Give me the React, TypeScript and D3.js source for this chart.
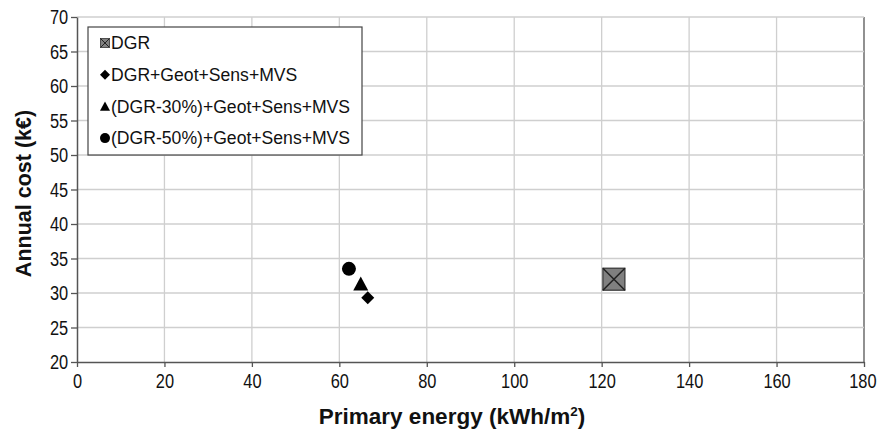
import React, { useEffect, useRef } from "react";
import * as d3 from "d3";

const seriesNames = [
  "DGR",
  "DGR+Geot+Sens+MVS",
  "(DGR-30%)+Geot+Sens+MVS",
  "(DGR-50%)+Geot+Sens+MVS",
];
const primaryEnergy = [122.8, 66.5, 64.9, 62.2];
const annualCost = [32.0, 29.3, 31.3, 33.5];
const xTicks = [0, 20, 40, 60, 80, 100, 120, 140, 160, 180];
const yTicks = [20, 25, 30, 35, 40, 45, 50, 55, 60, 65, 70];

const W = 877;
const H = 431;
const margin = { left: 77, right: 13, top: 17, bottom: 69 };
const FONT = "'Liberation Sans', Arial, sans-serif";

function drawMarker(g: any, kind: number, size: number) {
  if (kind === 0) {
    const s = size;
    g.append("rect")
      .attr("x", -s / 2).attr("y", -s / 2).attr("width", s).attr("height", s)
      .attr("fill", "#808080").attr("stroke", "#333").attr("stroke-width", s > 12 ? 1.2 : 0.8);
    g.append("path")
      .attr("d", `M${-s / 2},${-s / 2}L${s / 2},${s / 2}M${s / 2},${-s / 2}L${-s / 2},${s / 2}`)
      .attr("stroke", "#222").attr("stroke-width", s > 12 ? 1.5 : 1);
  } else if (kind === 1) {
    const r = size / 2;
    g.append("path").attr("d", `M0,${-r}L${r},0L0,${r}L${-r},0Z`).attr("fill", "#000");
  } else if (kind === 2) {
    const r = size / 2;
    g.append("path").attr("d", `M0,${-r}L${r},${r * 0.85}L${-r},${r * 0.85}Z`).attr("fill", "#000");
  } else {
    g.append("circle").attr("r", size / 2).attr("fill", "#000");
  }
}

export default function App() {
  const ref = useRef<SVGSVGElement>(null);

  useEffect(() => {
    const svg = d3.select(ref.current);
    svg.selectAll("*").remove();

    const x = d3.scaleLinear().domain([0, 180]).range([margin.left, W - margin.right]);
    const y = d3.scaleLinear().domain([20, 70]).range([H - margin.bottom, margin.top]);

    // gridlines
    svg.append("g").selectAll("line").data(xTicks.slice(1)).join("line")
      .attr("x1", (d) => x(d)).attr("x2", (d) => x(d))
      .attr("y1", y(20)).attr("y2", y(70))
      .attr("stroke", (d) => (d === 180 ? "#555" : "#cfcfcf")).attr("stroke-width", 1.3);
    svg.append("g").selectAll("line").data(yTicks.slice(1)).join("line")
      .attr("x1", x(0)).attr("x2", x(180))
      .attr("y1", (d) => y(d)).attr("y2", (d) => y(d))
      .attr("stroke", "#cfcfcf").attr("stroke-width", 1.3);

    // axes
    const xAxis = svg.append("g")
      .attr("transform", `translate(0,${y(20)})`)
      .call(d3.axisBottom(x).tickValues(xTicks).tickSize(5).tickSizeOuter(0).tickPadding(6));
    const yAxis = svg.append("g")
      .attr("transform", `translate(${x(0)},0)`)
      .call(d3.axisLeft(y).tickValues(yTicks).tickSize(6).tickSizeOuter(0).tickPadding(3));
    [xAxis, yAxis].forEach((a) => {
      a.selectAll(".domain").attr("stroke", "#555").attr("stroke-width", 1.5);
      a.selectAll(".tick line").attr("stroke", "#555").attr("stroke-width", 1.3);
      a.selectAll("text").attr("font-family", FONT).attr("font-size", 20.5).attr("fill", "#111");
    });
    // slightly condensed tick labels, as in the original
    xAxis.selectAll(".tick text").attr("transform", "scale(0.8,1)");
    xAxis.selectAll(".tick").filter((d: any) => d === 180).select("text").attr("x", -2);
    yAxis.selectAll(".tick text").attr("x", -11).attr("transform", "scale(0.8,1)");

    // titles
    const xt = svg.append("text")
      .attr("x", 452).attr("y", 424)
      .attr("text-anchor", "middle").attr("font-family", FONT)
      .attr("font-size", 22.5).attr("font-weight", "bold").attr("fill", "#111");
    xt.append("tspan").text("Primary energy (kWh/m");
    xt.append("tspan").text("2").attr("font-size", 13.5).attr("dy", -8);
    xt.append("tspan").text(")").attr("dy", 8);

    svg.append("text")
      .attr("transform", `translate(31,${(y(20) + y(70)) / 2 + 4}) rotate(-90)`)
      .attr("text-anchor", "middle").attr("font-family", FONT)
      .attr("font-size", 21.5).attr("font-weight", "bold").attr("fill", "#111")
      .text("Annual cost (k€)");

    // points
    const pts = svg.append("g");
    const sizes = [22, 13, 15, 14];
    seriesNames.forEach((_, i) => {
      const g = pts.append("g")
        .attr("transform", `translate(${x(primaryEnergy[i])},${y(annualCost[i])})`);
      drawMarker(g, i, sizes[i]);
    });

    // legend
    const lg = svg.append("g");
    lg.append("rect")
      .attr("x", 88).attr("y", 27).attr("width", 274).attr("height", 128)
      .attr("fill", "#fff").attr("stroke", "#444").attr("stroke-width", 1.2);
    seriesNames.forEach((name, i) => {
      const cy = 43 + i * 31.7;
      const m = lg.append("g").attr("transform", `translate(105,${cy})`);
      drawMarker(m, i, i === 0 ? 9 : 10);
      lg.append("text")
        .attr("x", 111).attr("y", cy).attr("dy", "0.36em")
        .attr("font-family", FONT).attr("font-size", 17.6).attr("fill", "#111")
        .text(name);
    });
  }, []);

  return <svg ref={ref} width={W} height={H} style={{ display: "block", position: "absolute", left: 0, top: 0, background: "#fff" }} />;
}
